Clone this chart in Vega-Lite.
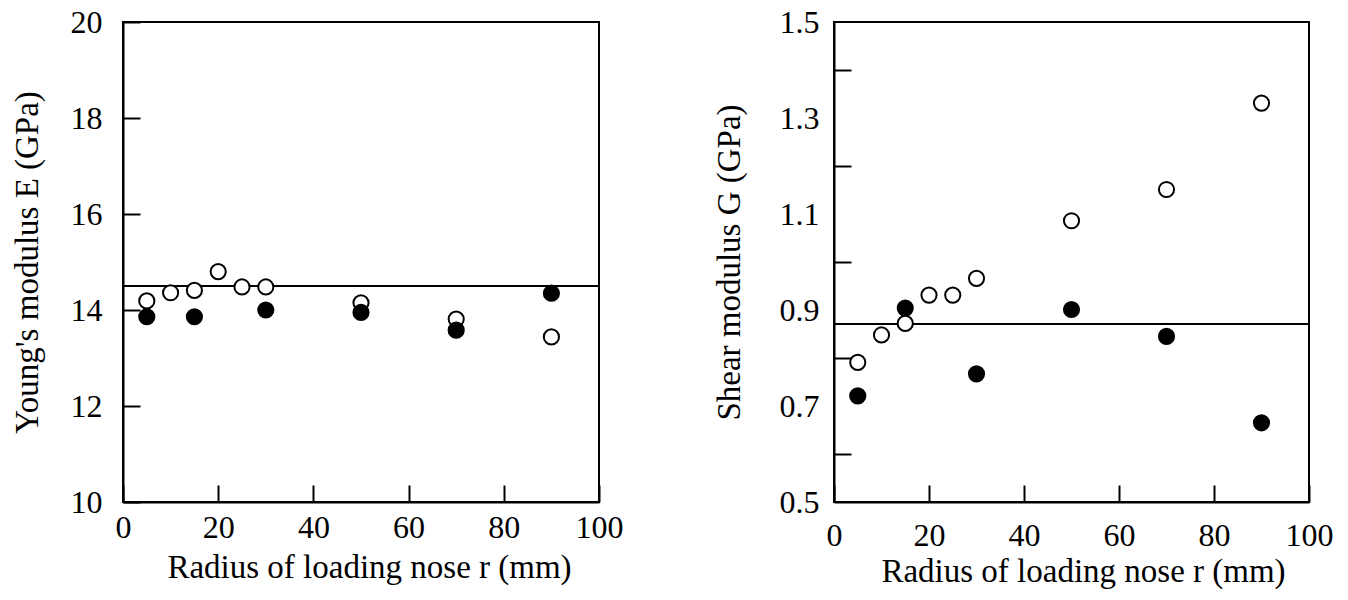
{
  "$schema": "https://vega.github.io/schema/vega-lite/v6.json",
  "background": "white",
  "padding": {"left": 10, "top": 5, "right": 5, "bottom": 5},
  "bounds": "flush",
  "spacing": 235,
  "datasets": {
    "young": [
      {"r": 5, "E": 14.19, "type": "open"},
      {"r": 10, "E": 14.36, "type": "open"},
      {"r": 15, "E": 14.41, "type": "open"},
      {"r": 20, "E": 14.8, "type": "open"},
      {"r": 25, "E": 14.48, "type": "open"},
      {"r": 30, "E": 14.48, "type": "open"},
      {"r": 50, "E": 14.15, "type": "open"},
      {"r": 70, "E": 13.81, "type": "open"},
      {"r": 90, "E": 13.44, "type": "open"},
      {"r": 5, "E": 13.86, "type": "filled"},
      {"r": 15, "E": 13.86, "type": "filled"},
      {"r": 30, "E": 14.0, "type": "filled"},
      {"r": 50, "E": 13.95, "type": "filled"},
      {"r": 70, "E": 13.58, "type": "filled"},
      {"r": 90, "E": 14.35, "type": "filled"}
    ],
    "shear": [
      {"r": 5, "G": 0.721, "type": "filled"},
      {"r": 15, "G": 0.904, "type": "filled"},
      {"r": 30, "G": 0.767, "type": "filled"},
      {"r": 50, "G": 0.901, "type": "filled"},
      {"r": 70, "G": 0.845, "type": "filled"},
      {"r": 90, "G": 0.665, "type": "filled"},
      {"r": 5, "G": 0.791, "type": "open"},
      {"r": 10, "G": 0.848, "type": "open"},
      {"r": 15, "G": 0.872, "type": "open"},
      {"r": 20, "G": 0.931, "type": "open"},
      {"r": 25, "G": 0.931, "type": "open"},
      {"r": 30, "G": 0.966, "type": "open"},
      {"r": 50, "G": 1.086, "type": "open"},
      {"r": 70, "G": 1.151, "type": "open"},
      {"r": 90, "G": 1.331, "type": "open"}
    ],
    "refE": [{"E": 14.5}],
    "refG": [{"G": 0.871}]
  },
  "hconcat": [
    {
      "width": 476,
      "height": 480,
      "layer": [
        {
          "data": {"name": "refE"},
          "mark": {"type": "rule", "color": "black", "strokeWidth": 2},
          "encoding": {
            "y": {"field": "E", "type": "quantitative", "scale": {"domain": [10, 20], "nice": false}}
          }
        },
        {
          "data": {"name": "young"},
          "mark": {"type": "point", "shape": "circle", "filled": true, "size": 230, "stroke": "black", "strokeWidth": 2, "opacity": 1},
          "encoding": {
            "x": {"field": "r", "type": "quantitative", "scale": {"domain": [0, 100], "nice": false},
              "axis": {"values": [0, 20, 40, 60, 80, 100], "labelPadding": 27, "titlePadding": 8, "titleX": 246, "title": "Radius of loading nose r (mm)"}},
            "y": {"field": "E", "type": "quantitative", "scale": {"domain": [10, 20], "nice": false},
              "axis": {"values": [10, 12, 14, 16, 18, 20], "labelPadding": 38, "titlePadding": 26, "title": "Young's modulus E (GPa)"}},
            "fill": {"field": "type", "type": "nominal", "scale": {"domain": ["open", "filled"], "range": ["white", "black"]}, "legend": null}
          }
        }
      ]
    },
    {
      "width": 475,
      "height": 480,
      "layer": [
        {
          "data": {"name": "refG"},
          "mark": {"type": "rule", "color": "black", "strokeWidth": 2},
          "encoding": {
            "y": {"field": "G", "type": "quantitative", "scale": {"domain": [0.5, 1.5], "nice": false}}
          }
        },
        {
          "data": {"name": "shear"},
          "mark": {"type": "point", "shape": "circle", "filled": true, "size": 230, "stroke": "black", "strokeWidth": 2, "opacity": 1},
          "encoding": {
            "x": {"field": "r", "type": "quantitative", "scale": {"domain": [0, 100], "nice": false},
              "axis": {"values": [0, 20, 40, 60, 80, 100], "labelPadding": 35, "titlePadding": 4, "titleX": 249, "title": "Radius of loading nose r (mm)"}},
            "y": {"field": "G", "type": "quantitative", "scale": {"domain": [0.5, 1.5], "nice": false},
              "axis": {"values": [0.5, 0.6, 0.7, 0.8, 0.9, 1.0, 1.1, 1.2, 1.3, 1.4, 1.5],
                "labelExpr": "round(datum.value * 10) % 2 == 1 ? format(datum.value, '.1f') : ''",
                "tickOpacity": {"condition": {"test": "round(datum.value * 10) % 2 == 0", "value": 1}, "value": 0},
                "labelPadding": 32,
                "titlePadding": 33,
                "title": "Shear modulus G (GPa)"}},
            "fill": {"field": "type", "type": "nominal", "scale": {"domain": ["open", "filled"], "range": ["white", "black"]}, "legend": null}
          }
        }
      ]
    }
  ],
  "resolve": {"scale": {"y": "independent"}},
  "config": {
    "view": {"stroke": "black", "strokeWidth": 2},
    "axis": {
      "grid": false,
      "domainColor": "black",
      "domainWidth": 2,
      "tickColor": "black",
      "tickWidth": 2,
      "tickSize": -17,
      "labelFont": "Times New Roman",
      "labelFontSize": 32,
      "labelColor": "black",
      "labelFlush": false,
      "labelOverlap": false,
      "titleFont": "Times New Roman",
      "titleFontSize": 33,
      "titleFontWeight": "normal",
      "titleColor": "black"
    }
  }
}
